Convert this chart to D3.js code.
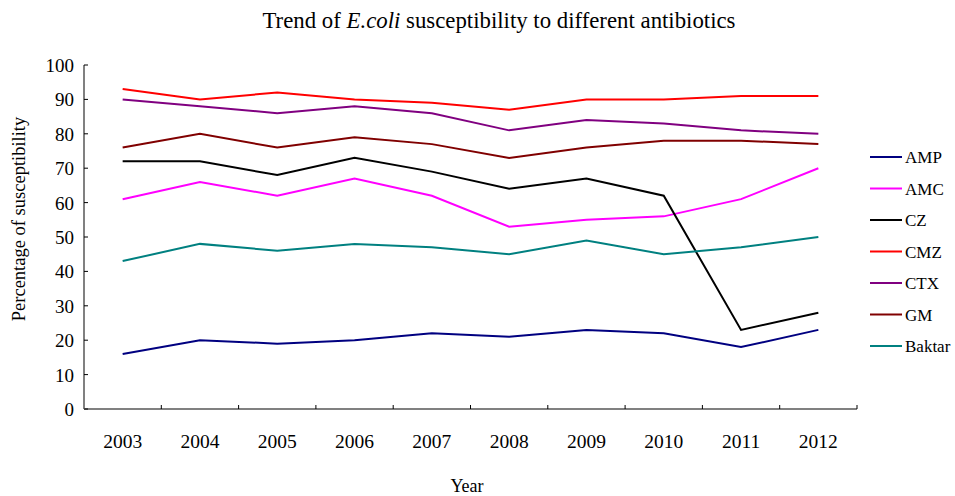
<!DOCTYPE html>
<html>
<head>
<meta charset="utf-8">
<script src="https://cdn.jsdelivr.net/npm/d3@7"></script>
<style>
  body { margin: 0; background: #fff; overflow: hidden; }
  svg { display: block; }
  text { font-family: "Liberation Serif", "DejaVu Serif", serif; fill: #000; }
</style>
</head>
<body>
<div id="chart"></div>
<script>
const years = ['2003', '2004', '2005', '2006', '2007', '2008', '2009', '2010', '2011', '2012'];
const yTicks = [0, 10, 20, 30, 40, 50, 60, 70, 80, 90, 100];
const seriesNames = ['AMP', 'AMC', 'CZ', 'CMZ', 'CTX', 'GM', 'Baktar'];
const seriesColors = ['#000080', '#ff00ff', '#000000', '#ff0000', '#800080', '#800000', '#008080'];
const AMP = [16, 20, 19, 20, 22, 21, 23, 22, 18, 23];
const AMC = [61, 66, 62, 67, 62, 53, 55, 56, 61, 70];
const CZ = [72, 72, 68, 73, 69, 64, 67, 62, 23, 28];
const CMZ = [93, 90, 92, 90, 89, 87, 90, 90, 91, 91];
const CTX = [90, 88, 86, 88, 86, 81, 84, 83, 81, 80];
const GM = [76, 80, 76, 79, 77, 73, 76, 78, 78, 77];
const Baktar = [43, 48, 46, 48, 47, 45, 49, 45, 47, 50];
const seriesValues = [AMP, AMC, CZ, CMZ, CTX, GM, Baktar];

const width = 955;
const height = 496;
const margin = { left: 84, right: 98, top: 65, bottom: 87 };
const innerWidth = width - margin.left - margin.right;
const innerHeight = height - margin.top - margin.bottom;

const svg = d3.select('#chart').append('svg')
    .attr('width', width)
    .attr('height', height);

// title with italic species name
const title = svg.append('text')
    .attr('x', 499)
    .attr('y', 28)
    .style('text-anchor', 'middle')
    .style('font-size', '22.8px');
title.append('tspan').text('Trend of ');
title.append('tspan').style('font-style', 'italic').text('E.coli');
title.append('tspan').text(' susceptibility to different antibiotics');

// scales in page coordinates
const xScale = d3.scaleBand()
    .domain(years)
    .range([margin.left, margin.left + innerWidth]);

const yScale = d3.scaleLinear()
    .domain([0, 100])
    .range([margin.top + innerHeight, margin.top]);

const x0 = margin.left;
const y0 = margin.top + innerHeight;

// x axis: ticks sit on the band edges, pointing up
svg.append('line')
    .attr('x1', x0).attr('x2', x0 + innerWidth)
    .attr('y1', y0).attr('y2', y0)
    .attr('stroke', '#808080').attr('stroke-width', 2);
const edges = years.map(d => xScale(d) + xScale.bandwidth());
svg.selectAll('.xtick').data(edges)
    .enter().append('line')
    .attr('class', 'xtick')
    .attr('x1', d => d).attr('x2', d => d)
    .attr('y1', y0).attr('y2', y0 - 4)
    .attr('stroke', '#000').attr('stroke-width', 1);
svg.selectAll('.xlabel').data(years)
    .enter().append('text')
    .attr('class', 'xlabel')
    .attr('x', d => xScale(d) + xScale.bandwidth() / 2)
    .attr('y', y0 + 39)
    .style('text-anchor', 'middle')
    .style('font-size', '19.5px')
    .text(d => d);

// y axis
svg.append('line')
    .attr('x1', x0).attr('x2', x0)
    .attr('y1', margin.top).attr('y2', y0)
    .attr('stroke', '#808080').attr('stroke-width', 2);
svg.selectAll('.ytick').data(yTicks)
    .enter().append('line')
    .attr('class', 'ytick')
    .attr('x1', x0).attr('x2', x0 + 4)
    .attr('y1', d => yScale(d)).attr('y2', d => yScale(d))
    .attr('stroke', '#000').attr('stroke-width', 1);
svg.selectAll('.ylabel').data(yTicks)
    .enter().append('text')
    .attr('class', 'ylabel')
    .attr('x', x0 - 10)
    .attr('y', d => yScale(d) + 7)
    .style('text-anchor', 'end')
    .style('font-size', '19px')
    .text(d => d);

svg.append('text')
    .attr('transform', `translate(25, 219) rotate(-90)`)
    .style('text-anchor', 'middle')
    .style('font-size', '18.5px')
    .text('Percentage of susceptibility');

svg.append('text')
    .attr('x', 467)
    .attr('y', 492)
    .style('text-anchor', 'middle')
    .style('font-size', '18px')
    .text('Year');

// lines
const line = d3.line()
    .x((d, i) => xScale(years[i]) + xScale.bandwidth() / 2)
    .y(d => yScale(d));

svg.selectAll('.series').data(seriesValues)
    .enter().append('path')
    .attr('class', 'series')
    .attr('d', line)
    .attr('fill', 'none')
    .attr('stroke', (d, i) => seriesColors[i])
    .attr('stroke-width', 2);

// legend
const legend = svg.append('g')
    .attr('transform', 'translate(870, 157)');
const item = legend.selectAll('g').data(seriesNames)
    .enter().append('g')
    .attr('transform', (d, i) => `translate(0, ${i * 31.5})`);
item.append('line')
    .attr('x1', 0).attr('x2', 32)
    .attr('stroke', (d, i) => seriesColors[i])
    .attr('stroke-width', 2);
item.append('text')
    .attr('x', 35)
    .attr('y', 6)
    .style('font-size', '17px')
    .text(d => d);
</script>
</body>
</html>
